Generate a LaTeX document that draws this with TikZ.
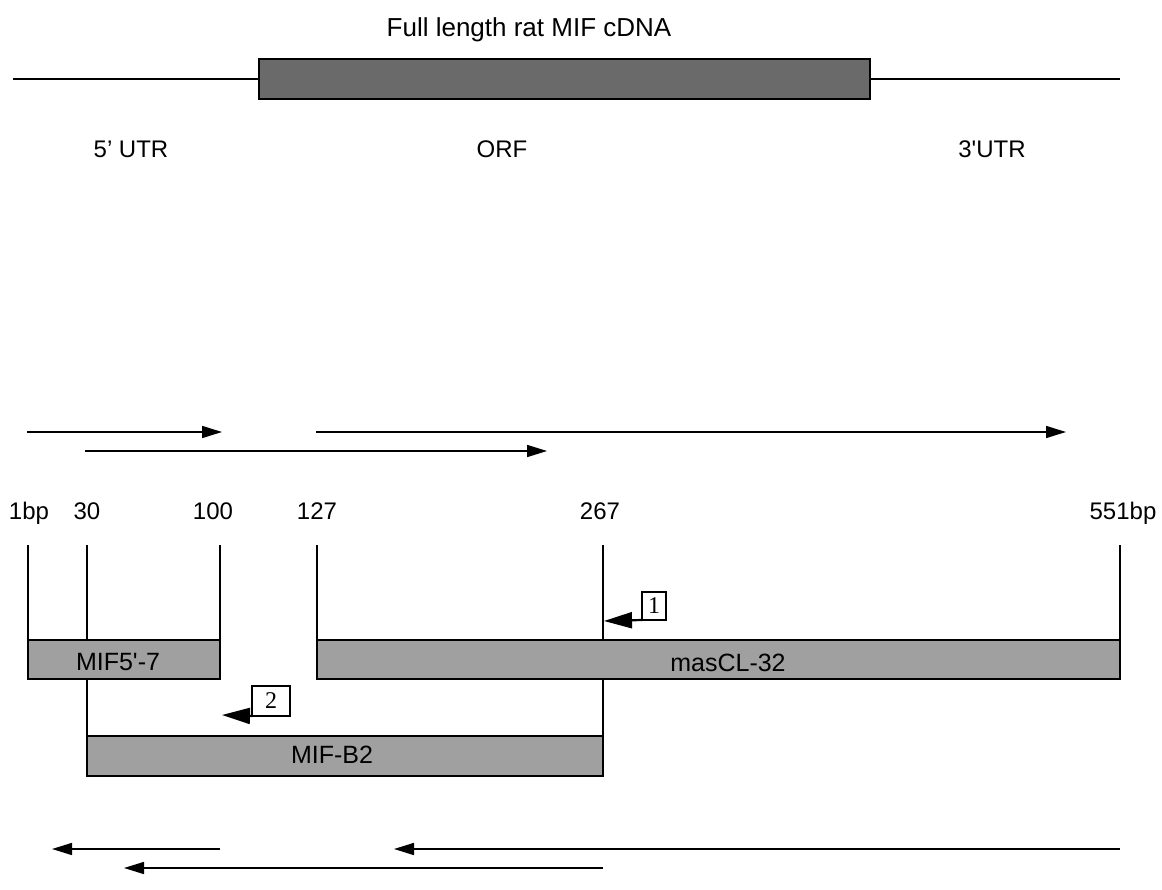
\documentclass[tikz,border=0pt]{standalone}
\usepackage{fontspec}
\setmainfont{Liberation Sans}
\newfontfamily\numserif{Liberation Serif}
\usetikzlibrary{arrows.meta}
\definecolor{orfgray}{HTML}{6A6A6A}
\definecolor{seggray}{HTML}{A0A0A0}
\tikzset{
  seg/.style={draw=black, line width=2pt, fill=seggray, inner sep=0pt, outer sep=0pt, anchor=north west},
  orfbox/.style={draw=black, line width=2pt, fill=orfgray, inner sep=0pt, outer sep=0pt, anchor=north west},
  lab/.style={font=\fontsize{24}{28}\selectfont, inner sep=0pt, anchor=base},
  numbox/.style={draw=black, line width=1.3pt, fill=white, font=\numserif\fontsize{24}{26}\selectfont, inner sep=0pt, outer sep=0pt, minimum width=24pt, minimum height=28pt, anchor=north west},
  thin/.style={line width=1.6pt},
  fwd/.style={line width=1.6pt, -{Triangle[length=20pt,width=12pt]}},
  bigarr/.style={line width=2.2pt, -{Triangle[length=28pt,width=16pt]}}
}
\begin{document}
\begin{tikzpicture}[x=1pt,y=-1pt]
\useasboundingbox (0,0) rectangle (1162,890);
% top
\node[lab, font=\fontsize{26}{30}\selectfont] (title) at (529,37) {Full length rat MIF cDNA};
\coordinate (l0) at (13,79);
\coordinate (l1) at (1120,79);
\node[orfbox, minimum width=611pt, minimum height=40pt] (orf) at (259,59) {};
\draw[thin] (l0) -- (orf.west);
\draw[thin] (orf.east) -- (l1);
\node[lab] (utr5) at (131,158) {5’ UTR};
\node[lab] (orflab) at (502,158) {ORF};
\node[lab] (utr3) at (992,158) {3\textquotesingle UTR};
% forward arrows
\coordinate (fa0) at (27,432); \coordinate (fa1) at (222,432);
\coordinate (fb0) at (316,432); \coordinate (fb1) at (1066,432);
\coordinate (fc0) at (85,451); \coordinate (fc1) at (547,451);
\draw[fwd] (fa0) -- (fa1);
\draw[fwd] (fb0) -- (fb1);
\draw[fwd] (fc0) -- (fc1);
% tick labels
\node[lab] (n1) at (29,519) {1bp};
\node[lab] (n30) at (87,519) {30};
\node[lab] (n100) at (213,519) {100};
\node[lab] (n127) at (317,519) {127};
\node[lab] (n267) at (600,519) {267};
\node[lab] (n551) at (1123,519) {551bp};
% verticals (drawn first, boxes cover them)
\coordinate (v1) at (28,545);
\coordinate (v30) at (87,545);
\coordinate (v100) at (220,545);
\coordinate (v127) at (317,545);
\coordinate (v267) at (603,545);
\coordinate (v551) at (1120,545);
\coordinate (b30) at (87,737);
\coordinate (b267) at (603,737);
\draw[thin] (v30) -- (b30);
\draw[thin] (v267) -- (b267);
% segment boxes
\node[seg, minimum width=192pt, minimum height=39pt] (m5) at (28,640) {};
\node[seg, minimum width=803pt, minimum height=39pt] (mas) at (317,640) {};
\node[seg, minimum width=516pt, minimum height=40pt] (b2) at (87,736) {};
\draw[thin] (v1) -- (m5.north west);
\draw[thin] (v100) -- (m5.north east);
\draw[thin] (v127) -- (mas.north west);
\draw[thin] (v551) -- (mas.north east);
\node[lab, font=\fontsize{25}{29}\selectfont] at (118,670) {MIF5\textquotesingle-7};
\node[lab, font=\fontsize{25}{29}\selectfont] at (728,671) {masCL-32};
\node[lab, font=\fontsize{25}{29}\selectfont] at (332,763) {MIF-B2};
% numbered markers
\node[numbox] (k1) at (642,592) {1};
\coordinate (k1t) at (604,621);
\draw[bigarr] (k1.south west) -- (k1t);
\node[numbox, minimum width=38pt, minimum height=30pt] (k2) at (252,686) {2};
\coordinate (k2t) at (222,715);
\draw[bigarr] (k2.south west) -- (k2t);
% reverse arrows
\coordinate (ra0) at (220,849); \coordinate (ra1) at (52,849);
\coordinate (rb0) at (1120,849); \coordinate (rb1) at (394,849);
\coordinate (rc0) at (603,868); \coordinate (rc1) at (124,868);
\draw[fwd] (ra0) -- (ra1);
\draw[fwd] (rb0) -- (rb1);
\draw[fwd] (rc0) -- (rc1);
\end{tikzpicture}
\end{document}
